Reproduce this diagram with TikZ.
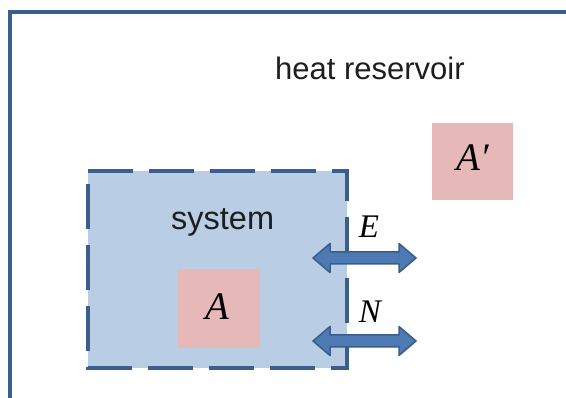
\documentclass[tikz,border=0pt]{standalone}
\usepackage{fontspec}
\setmainfont{Liberation Sans}
\newfontfamily\varfont{Liberation Serif}
\definecolor{frameblue}{HTML}{3B5E8C}
\definecolor{sysfill}{HTML}{B9CDE5}
\definecolor{pinkfill}{HTML}{E6B9B8}
\definecolor{arrfill}{HTML}{4D7AB3}
\definecolor{arrline}{HTML}{385D8A}
\definecolor{txt}{HTML}{1E1E1E}
\tikzset{
  framestyle/.style={draw=frameblue, line width=4pt, line join=miter},
  sysstyle/.style={fill=sysfill, draw=frameblue, line width=4pt, dash pattern=on 45pt off 16pt},
  pinkbox/.style={rectangle, fill=pinkfill, draw=none, inner sep=0pt},
  arrowshape/.style={fill=arrfill, draw=arrline, line width=1.5pt, line join=round},
  bigtext/.style={text=txt, inner sep=0pt, font=\fontsize{31}{36}\selectfont},
  varlabel/.style={text=black, inner sep=0pt, font=\varfont\itshape\fontsize{39}{44}\selectfont},
  smallvar/.style={varlabel, font=\varfont\itshape\fontsize{33}{38}\selectfont},
  pics/dblarrow/.style={code={
    \draw[arrowshape] (-51.5,0) -- (-34.5,-14.5) -- (-34.5,-6) -- (34.5,-6) -- (34.5,-14.5)
      -- (51.5,0) -- (34.5,14.5) -- (34.5,6) -- (-34.5,6) -- (-34.5,14.5) -- cycle;
  }}
}
\begin{document}
\begin{tikzpicture}[x=1pt,y=-1pt]
\useasboundingbox (0,0) rectangle (566,398);
% reservoir frame
\coordinate (fbl) at (10,398);
\coordinate (ftl) at (10,12.5);
\coordinate (ftr) at (566,12.5);
\draw[framestyle] (fbl) -- (ftl) -- (ftr);
\node[bigtext, anchor=base west] (heat) at (275,80) {heat reservoir};
% system box
\coordinate (stl) at (88,171);
\coordinate (str) at (347,171);
\coordinate (sbr) at (347,368);
\coordinate (sbl) at (88,368);
\draw[sysstyle] (stl) -- (str) -- (sbr) -- (sbl) -- cycle;
\node[bigtext, anchor=base west, font=\fontsize{32.5}{36}\selectfont] (system) at (171,230) {system};
% pink boxes
\node[pinkbox, minimum width=83pt, minimum height=79pt] (boxA) at (218.5,308.5) {};
\node[varlabel, anchor=base] (labA) at (217.5,319.5) {A};
\node[pinkbox, minimum width=81pt, minimum height=77pt] (boxAp) at (472.5,161.5) {};
\node[varlabel, anchor=base west] (labAp) at (456,171) {A′};
% exchange arrows
\pic at (364.5,258) {dblarrow};
\pic at (364.5,341) {dblarrow};
\node[smallvar, anchor=base] (labE) at (369,238) {E};
\node[smallvar, anchor=base] (labN) at (370,323) {N};
\end{tikzpicture}
\end{document}
